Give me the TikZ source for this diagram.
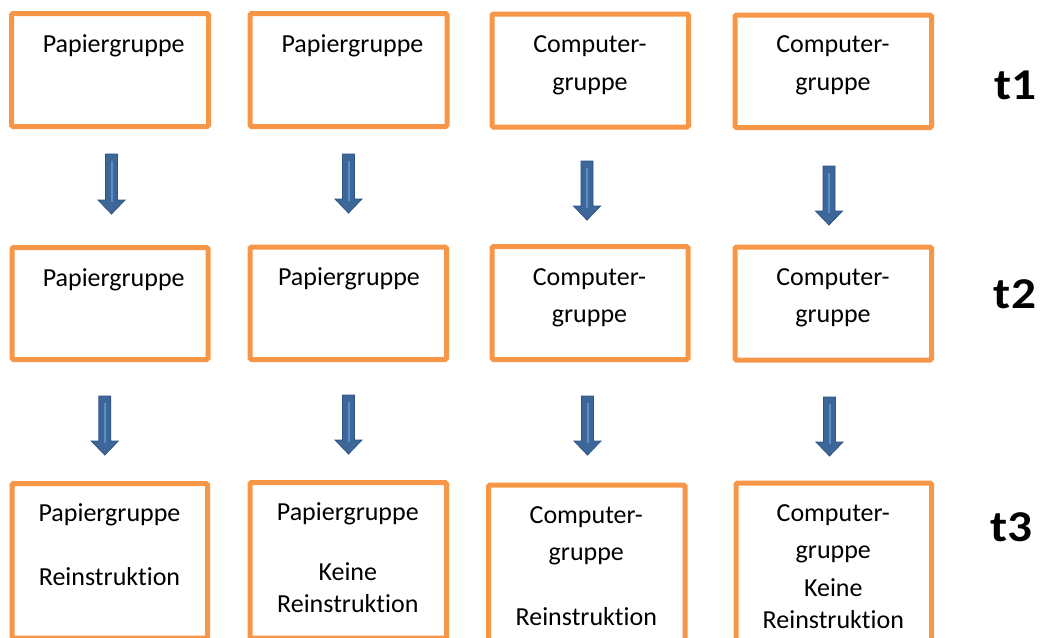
\documentclass[tikz,border=0pt]{standalone}
\usepackage{fontspec}
\setmainfont[Ligatures=NoCommon]{Carlito}
\usetikzlibrary{calc,fit}

\definecolor{stageorange}{HTML}{F79646}
\definecolor{arrowblue}{HTML}{3D6699}
\definecolor{arrowedge}{HTML}{2E5286}
\definecolor{shineblue}{HTML}{5B8DCB}

\tikzset{
  stagebox/.style={draw=stageorange, line width=5pt, rounded corners=1.5pt,
    inner sep=0pt, fill=white},
  % anchor=base sits on the baseline of the last line
  grouptext/.style={anchor=base, align=center, inner sep=0pt,
    font=\fontsize{26}{32}\selectfont},
  timelabel/.style={anchor=base, inner sep=0pt, xscale=1.12,
    font=\fontsize{44}{50}\selectfont\bfseries},
  blockarrow/.style={fill=arrowblue, draw=arrowedge, line width=0.8pt, line join=miter,
    to path={($(\tikztostart)+(-6,0)$) -- ($(\tikztotarget)+(-6,-14)$)
      -- ($(\tikztotarget)+(-13.5,-14)$) -- (\tikztotarget)
      -- ($(\tikztotarget)+(13.5,-14)$) -- ($(\tikztotarget)+(6,-14)$)
      -- ($(\tikztostart)+(6,0)$) -- cycle}},
  arrowshine/.style={draw=shineblue, line width=2pt,
    to path={($(\tikztostart)+(0,7)$) -- ($(\tikztotarget)+(0,-12)$)}},
}

\begin{document}
\begin{tikzpicture}[x=1pt, y=-1pt]
\clip (0,0) rectangle (1041,637);
\fill[white] (0,0) rectangle (1041,637);

% boxes, first measurement time
\node[stagebox, fit={(11.5,13.5) (208.5,126.5)}] (b11) {};
\node[stagebox, fit={(250,13.5) (447,126.5)}] (b12) {};
\node[stagebox, fit={(492,14) (688.5,127)}] (b13) {};
\node[stagebox, fit={(735,15) (931.5,127.5)}] (b14) {};

% boxes, second measurement time
\node[stagebox, fit={(12,247.5) (208,359.5)}] (b21) {};
\node[stagebox, fit={(250,247) (446.5,359.5)}] (b22) {};
\node[stagebox, fit={(492,246.5) (688,359.5)}] (b23) {};
\node[stagebox, fit={(735,247) (931.5,360)}] (b24) {};

% boxes, third measurement time
\node[stagebox, fit={(12,483.5) (207.5,638)}] (b31) {};
\node[stagebox, fit={(250,482.5) (446.5,638)}] (b32) {};
\node[stagebox, fit={(488.5,485) (685,641)}] (b33) {};
\node[stagebox, fit={(736,483) (931.5,641)}] (b34) {};

% group labels
\node[grouptext] (p11) at (113.7,52) {Papiergruppe};
\node[grouptext] (p12) at (352.5,52) {Papiergruppe};
\node[grouptext] (p13) at (590,90) {Computer-\\[6pt]gruppe};
\node[grouptext] (p14) at (833,90) {Computer-\\[6pt]gruppe};

\node[grouptext] (p21) at (113.7,286) {Papiergruppe};
\node[grouptext] (p22) at (349,285) {Papiergruppe};
\node[grouptext] (p23) at (589.5,322.5) {Computer-\\[5.5pt]gruppe};
\node[grouptext] (p24) at (833,322.5) {Computer-\\[5.5pt]gruppe};

\node[grouptext] (p31) at (109.5,585.7) {Papiergruppe\\[32pt]Reinstruktion};
\node[grouptext] (p32) at (347.8,612.7) {Papiergruppe\\[28.7pt]Keine\\Reinstruktion};
\node[grouptext] (p33) at (586.3,625) {Computer-\\[4.7pt]gruppe\\[33pt]Reinstruktion};
\node[grouptext] (p34) at (833.3,628.3) {Computer-\\[4.6pt]gruppe\\[5.7pt]Keine\\[0.3pt]Reinstruktion};

% time labels
\node[timelabel] (t1) at (1015.5,99) {t1};
\node[timelabel] (t2) at (1015,308.3) {t2};
\node[timelabel] (t3) at (1011.7,541) {t3};

% arrow ends
\coordinate (s11) at (111.5,154); \coordinate (e11) at (111.5,214);
\coordinate (s12) at (348.5,154); \coordinate (e12) at (348.5,213);
\coordinate (s13) at (587,161);   \coordinate (e13) at (587,220);
\coordinate (s14) at (829,166);   \coordinate (e14) at (829,225);
\coordinate (s21) at (104.8,396); \coordinate (e21) at (104.8,455);
\coordinate (s22) at (348.5,395); \coordinate (e22) at (348.5,454);
\coordinate (s23) at (587.5,396); \coordinate (e23) at (587.5,455);
\coordinate (s24) at (829.5,397); \coordinate (e24) at (829.5,456);

\foreach \r in {1,2}{
  \foreach \c in {1,2,3,4}{
    \draw[blockarrow] (s\r\c) to (e\r\c);
    \draw[arrowshine] (s\r\c) to (e\r\c);
  }
}
\end{tikzpicture}
\end{document}
